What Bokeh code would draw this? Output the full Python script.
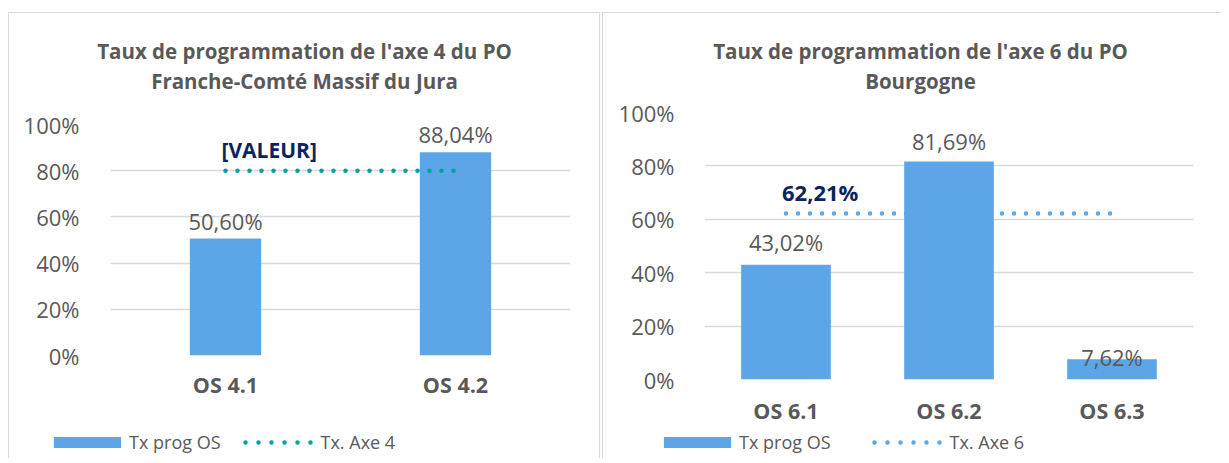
from bokeh.plotting import figure
from bokeh.models import (ColumnDataSource, Range1d, FactorRange, FixedTicker,
                          LabelSet, Label, Legend, LegendItem)
from bokeh.layouts import row, column
from bokeh.core.properties import value
from bokeh.embed import file_html
from bokeh.resources import INLINE

# ---------------- data ----------------
left_title = ["Taux de programmation de l'axe 4 du PO", "Franche-Comté Massif du Jura"]
left_categories = ["OS 4.1", "OS 4.2"]
left_values = [50.60, 88.04]
left_axe_value = 80.0
left_axe_text = "[VALEUR]"
left_series = ["Tx prog OS", "Tx. Axe 4"]

right_title = ["Taux de programmation de l'axe 6 du PO", "Bourgogne"]
right_categories = ["OS 6.1", "OS 6.2", "OS 6.3"]
right_values = [43.02, 81.69, 7.62]
right_axe_value = 62.21
right_axe_text = "62,21%"
right_series = ["Tx prog OS", "Tx. Axe 6"]

y_ticks = [0, 20, 40, 60, 80, 100]
y_tick_labels = ["0%", "20%", "40%", "60%", "80%", "100%"]

# ---------------- style ----------------
FONT = "Open Sans"
GRAY = "#595959"
GRID = "#D9D9D9"
BAR = "#5CA5E7"
NAVY = "#0B2461"
BORDER = "1px solid #D9D9D9"
LEGEND_DOTS = "0 13 0 13 0 13 0 13 0 13 0 35"


def fmt(v):
    return f"{v:.2f}".replace(".", ",") + "%"


def blank_fig(w, h, x_range=None, y_range=None):
    f = figure(x_range=x_range if x_range is not None else Range1d(0, w),
               y_range=y_range if y_range is not None else Range1d(h, 0),
               frame_width=w, frame_height=h, min_border=0,
               x_axis_location=None, y_axis_location=None,
               outline_line_color=None, toolbar_location=None,
               output_backend="svg", background_fill_color="white",
               border_fill_color="white", frame_align=False)
    f.grid.visible = False
    return f


def make_panel(title, cats, vals, axe_val, axe_text, series, *, fig_w,
               title_h, title_cx, title_ys, frame_w, frame_h, mb_left,
               mb_right, mb_top, mb_bottom, legend_h, legend_loc,
               legend_spacing, bar_width, line_color, label_dy, ystand,
               xstand, axe_font, margin, styles):
    # ---- title block ----
    t = blank_fig(fig_w, title_h)
    for txt, ty in zip(title, title_ys):
        t.add_layout(Label(x=title_cx, y=ty, text=txt, text_align="center",
                           text_baseline="middle", text_font=FONT,
                           text_font_style="bold", text_font_size="20.5px",
                           text_color=GRAY))

    # ---- chart ----
    p = figure(x_range=FactorRange(*cats), y_range=Range1d(0, 100),
               frame_width=frame_w, frame_height=frame_h,
               output_backend="svg", toolbar_location=None,
               min_border_left=mb_left, min_border_right=mb_right,
               min_border_top=mb_top, min_border_bottom=mb_bottom,
               outline_line_color=None, background_fill_color="white",
               border_fill_color="white", frame_align=False)
    src = ColumnDataSource(dict(cat=cats, val=vals,
                                txt=[fmt(v) for v in vals], dy=label_dy))
    p.vbar(x="cat", top="val", width=bar_width, source=src,
           fill_color=BAR, line_color=None)
    p.line(x=cats, y=[axe_val] * len(cats), line_color=line_color,
           line_width=4.5, line_dash="0 12", line_cap="round")

    p.add_layout(LabelSet(x="cat", y="val", text="txt", source=src,
                          y_offset="dy", text_align="center",
                          text_baseline="middle", text_font=value(FONT),
                          text_font_size="22px", text_color=GRAY))
    p.add_layout(Label(x=0.5, y=axe_val, x_offset=-4, y_offset=21,
                       text=axe_text, text_align="left",
                       text_baseline="middle", text_font=FONT,
                       text_font_style="bold", text_font_size=axe_font,
                       text_color=NAVY))

    p.xgrid.grid_line_color = None
    p.ygrid.ticker = FixedTicker(ticks=y_ticks)
    p.ygrid.grid_line_color = GRID
    p.ygrid.grid_line_width = 1.5

    p.yaxis.ticker = FixedTicker(ticks=y_ticks)
    p.yaxis.major_label_overrides = dict(zip(y_ticks, y_tick_labels))
    p.yaxis.axis_line_color = None
    p.yaxis.major_tick_line_color = None
    p.yaxis.minor_tick_line_color = None
    p.yaxis.major_label_standoff = ystand
    p.yaxis.major_label_text_font = FONT
    p.yaxis.major_label_text_font_size = "22px"
    p.yaxis.major_label_text_color = GRAY

    p.xaxis.axis_line_color = None
    p.xaxis.major_tick_line_color = None
    p.xaxis.major_label_standoff = xstand
    p.xaxis.major_label_text_font = FONT
    p.xaxis.major_label_text_font_style = "bold"
    p.xaxis.major_label_text_font_size = "21.5px"
    p.xaxis.major_label_text_color = GRAY

    # ---- legend block (proxy glyphs: zero-size bars / line outside range) ----
    lf = blank_fig(fig_w, legend_h, x_range=FactorRange(*cats),
                   y_range=Range1d(-2, -1))
    lbar = lf.vbar(x="cat", top="val", bottom="val", width=0,
                   source=src, fill_color=BAR, line_color=None)
    lline = lf.line(x=cats, y=[axe_val] * len(cats), line_color=line_color,
                    line_width=4.5, line_dash=LEGEND_DOTS,
                    line_dash_offset=92, line_cap="round")
    legend = Legend(items=[LegendItem(label=series[0], renderers=[lbar]),
                           LegendItem(label=series[1], renderers=[lline])],
                    orientation="horizontal", location=legend_loc,
                    glyph_width=84, glyph_height=14, label_standoff=0,
                    spacing=legend_spacing, padding=0, margin=0,
                    border_line_color=None, background_fill_alpha=0,
                    label_text_font=FONT, label_text_font_size="18px",
                    label_text_color=GRAY)
    lf.add_layout(legend)

    return column(t, p, lf, spacing=0, margin=margin, styles=styles)


left = make_panel(left_title, left_categories, left_values, left_axe_value,
                  left_axe_text, left_series, fig_w=590, title_h=84,
                  title_cx=295, title_ys=[37, 67], frame_w=460, frame_h=231,
                  mb_left=101, mb_right=29, mb_top=27, mb_bottom=63,
                  legend_h=40, legend_loc=(36, 4), legend_spacing=16,
                  bar_width=0.31, line_color="#00A19B", label_dy=[18, 18],
                  ystand=25, xstand=8, axe_font="21px",
                  margin=(12, 0, 0, 8),
                  styles={"border-top": BORDER, "border-left": BORDER,
                          "border-right": BORDER})

right = make_panel(right_title, right_categories, right_values,
                   right_axe_value, right_axe_text, right_series, fig_w=618,
                   title_h=84, title_cx=317, title_ys=[37, 67], frame_w=489,
                   frame_h=267, mb_left=101, mb_right=28, mb_top=15,
                   mb_bottom=52, legend_h=27, legend_loc=(52, 4),
                   legend_spacing=35, bar_width=0.55, line_color=BAR,
                   label_dy=[23, 20, 2], ystand=24, xstand=10,
                   axe_font="22px", margin=(12, 0, 0, 2),
                   styles={"border-top": BORDER, "border-left": BORDER})

layout = row(left, right, spacing=0)

open("out.html", "w").write(file_html(layout, INLINE))
